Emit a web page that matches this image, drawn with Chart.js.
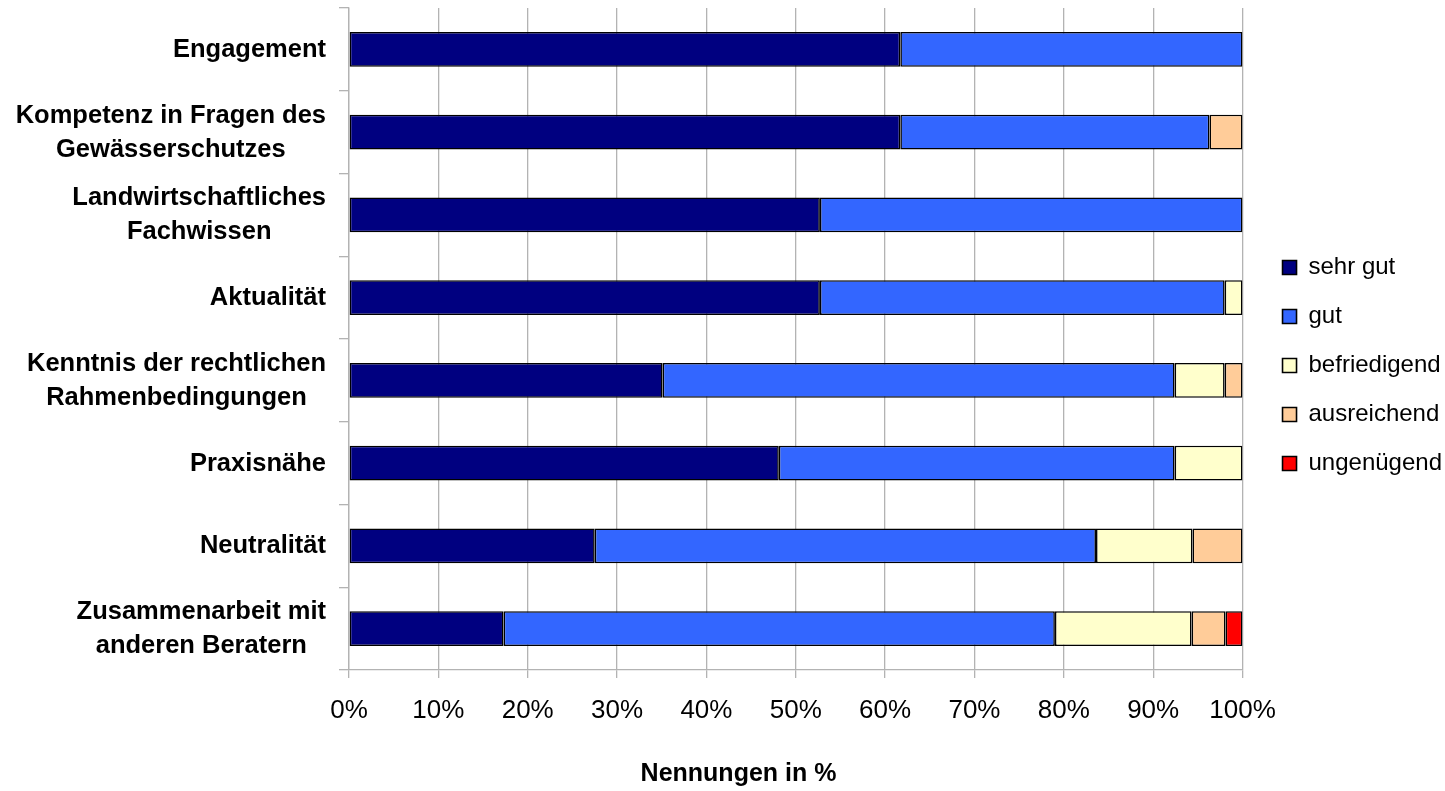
<!DOCTYPE html>
<html>
<head>
<meta charset="utf-8">
<script src="https://cdn.jsdelivr.net/npm/chart.js@4.4.1/dist/chart.umd.min.js"></script>
<style>
  html, body { margin: 0; padding: 0; background: #ffffff; }
  #c { display: block; }
</style>
</head>
<body>
<canvas id="c" width="1445" height="791"></canvas>
<script>
// Bewertung der Berater – Nennungen in Prozent je Kriterium
const categories = [
  ["Engagement"],
  ["Kompetenz in Fragen des", "Gewässerschutzes"],
  ["Landwirtschaftliches", "Fachwissen"],
  ["Aktualität"],
  ["Kenntnis der rechtlichen", "Rahmenbedingungen"],
  ["Praxisnähe"],
  ["Neutralität"],
  ["Zusammenarbeit mit", "anderen Beratern"]
];

const seriesNames = ["sehr gut", "gut", "befriedigend", "ausreichend", "ungenügend"];

const sehrGut      = [61.7, 61.7, 52.7, 52.7, 35.1, 48.1, 27.5, 17.3];
const gut          = [38.3, 34.6, 47.3, 45.3, 57.3, 44.3, 56.1, 61.7];
const befriedigend = [0,    0,    0,    2.0,  5.6,  7.6,  10.8, 15.3];
const ausreichend  = [0,    3.7,  0,    0,    2.0,  0,    5.6,  3.8];
const ungenuegend  = [0,    0,    0,    0,    0,    0,    0,    1.9];

const xTicks = [0, 10, 20, 30, 40, 50, 60, 70, 80, 90, 100];
const xTitle = "Nennungen in %";

const colors = ["#000080", "#3366FF", "#FFFFCC", "#FFCC99", "#FF0000"];
const seriesValues = [sehrGut, gut, befriedigend, ausreichend, ungenuegend];

Chart.defaults.font.family = '"Liberation Sans", Arial, Helvetica, sans-serif';
Chart.defaults.color = "#000000";

const GRID = "#b3b3b3";

// Category labels: each block right-aligned against the axis, its lines centred within the block
const categoryLabels = {
  id: "categoryLabels",
  afterDraw(chart) {
    const scale = chart.scales.y;
    const ctx = chart.ctx;
    ctx.save();
    ctx.font = 'bold 25.5px "Liberation Sans", Arial, sans-serif';
    ctx.fillStyle = "#000000";
    ctx.textAlign = "center";
    ctx.textBaseline = "middle";
    const right = chart.chartArea.left - 23;
    const lineHeight = 34;
    categories.forEach((lines, i) => {
      const cy = scale.getPixelForTick(i);
      const w = Math.max(...lines.map(l => ctx.measureText(l).width));
      const cx = right - w / 2;
      lines.forEach((l, j) => {
        ctx.fillText(l, cx, cy + (j - (lines.length - 1) / 2) * lineHeight + 0.5);
      });
    });
    ctx.restore();
  }
};

// Fine placement of the legend block and the bottom title after layout
const placement = {
  id: "placement",
  afterLayout(chart) {
    const lg = chart.legend;
    if (lg) {
      const dx = 15, dy = -34;
      lg.left += dx; lg.right += dx;
      lg.top += dy; lg.bottom += dy;
    }
    const t = chart.titleBlock;
    if (t) {
      t.left += 20; t.right += 20;
    }
  }
};

new Chart(document.getElementById("c"), {
  type: "bar",
  data: {
    labels: categories,
    datasets: seriesNames.map((name, k) => ({
      label: name,
      data: seriesValues[k],
      backgroundColor: colors[k],
      borderColor: "#000000",
      borderWidth: 1.6,
      borderSkipped: false,
      barPercentage: 0.42,
      categoryPercentage: 1.0
    }))
  },
  options: {
    indexAxis: "y",
    responsive: false,
    devicePixelRatio: 1,
    animation: false,
    layout: { padding: { top: 8, left: 0, right: 8, bottom: 0 } },
    scales: {
      x: {
        stacked: true,
        min: 0,
        max: 100,
        afterBuildTicks(scale) {
          scale.ticks = xTicks.map(v => ({ value: v }));
        },
        afterFit(scale) { scale.height = 81; },
        ticks: {
          font: { size: 26 },
          color: "#000000",
          padding: 17,
          maxRotation: 0,
          callback: v => v + "%"
        },
        grid: {
          color: GRID,
          lineWidth: 1.3,
          tickLength: 8,
          drawTicks: true
        },
        border: { color: GRID, width: 1.3 }
      },
      y: {
        stacked: true,
        afterFit(scale) { scale.width = 349; },
        ticks: { display: false },
        grid: {
          offset: true,
          drawOnChartArea: false,
          drawTicks: true,
          tickLength: 10,
          color: GRID,
          lineWidth: 1.3
        },
        border: { color: GRID, width: 1.3 }
      }
    },
    plugins: {
      legend: {
        position: "right",
        align: "center",
        labels: {
          boxWidth: 14,
          boxHeight: 14,
          padding: 25,
          font: { size: 24 },
          color: "#000000"
        }
      },
      title: {
        display: true,
        text: xTitle,
        position: "bottom",
        font: { size: 25, weight: "bold" },
        color: "#000000",
        padding: { top: 8, bottom: 2 }
      },
      tooltip: { enabled: false }
    }
  },
  plugins: [categoryLabels, placement]
});
</script>
</body>
</html>
